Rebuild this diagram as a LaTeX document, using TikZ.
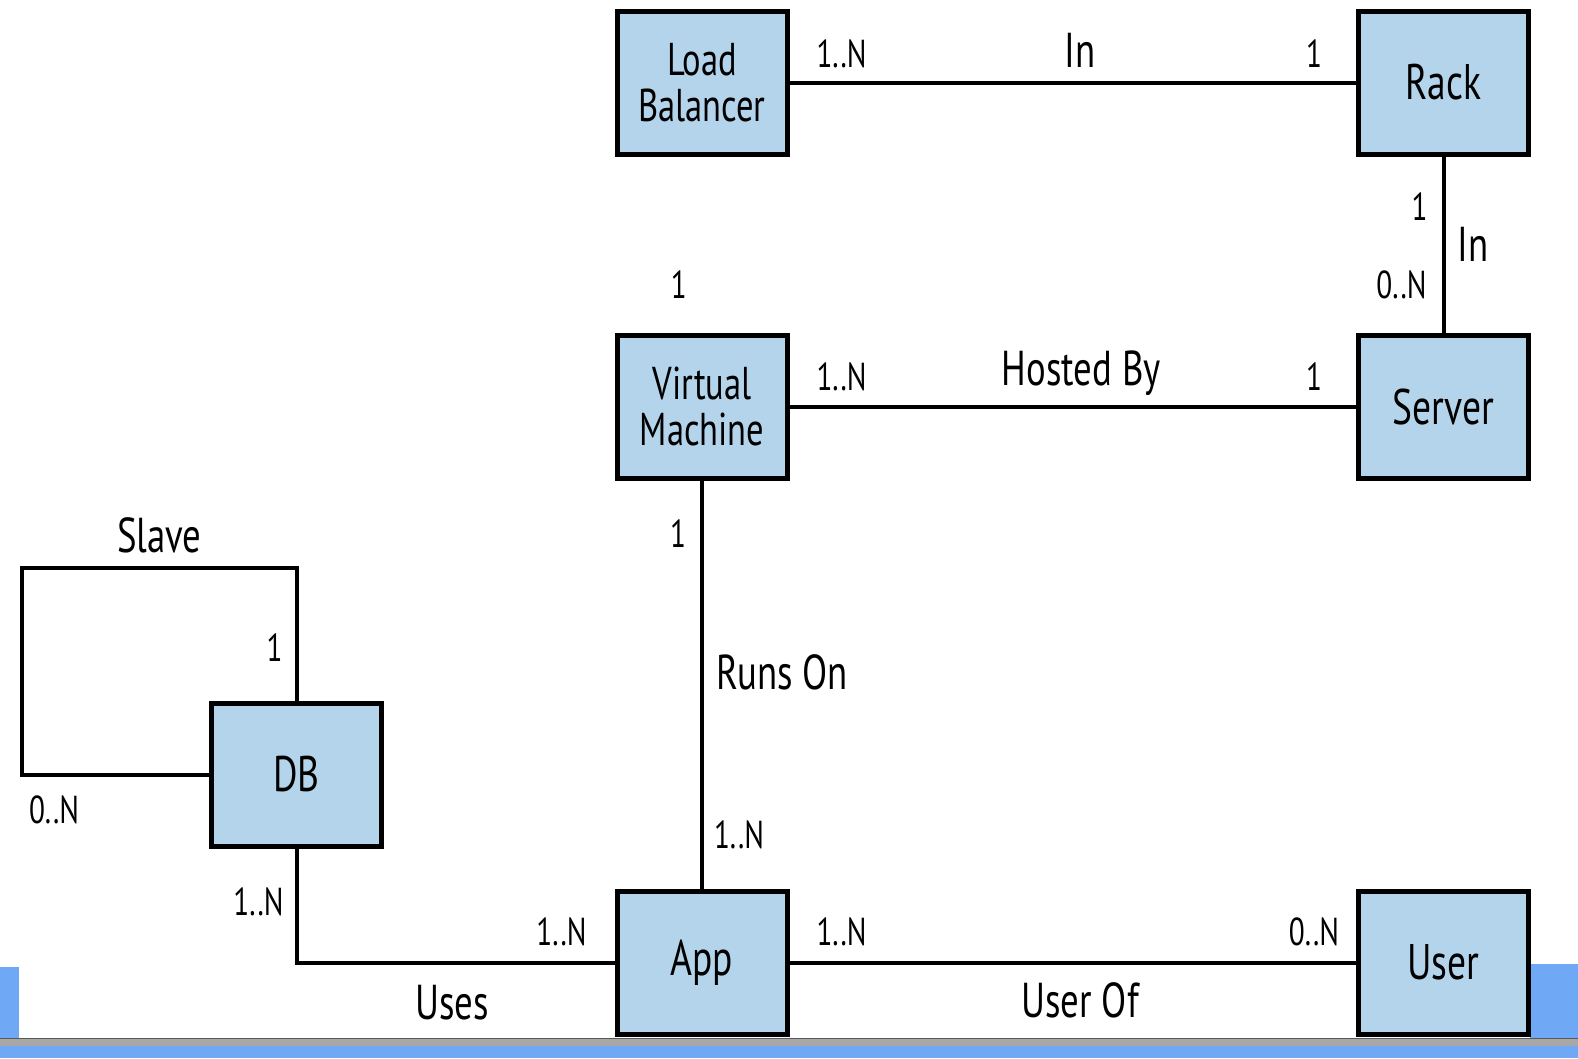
\documentclass[tikz,border=0pt]{standalone}
\usepackage{fontspec}
\setmainfont{PT Sans}[FakeStretch=0.75]
\usepackage{xcolor}
\usetikzlibrary{positioning}
\definecolor{entityblue}{HTML}{B3D4EA}
\definecolor{barblue}{HTML}{6FA8F5}
\definecolor{bargray}{HTML}{A8A8A8}

\begin{document}
\begin{tikzpicture}[
  x=1pt,y=-1pt,
  node distance=176pt and 566.5pt,
  entity/.style={draw,line width=5pt,fill=entityblue,minimum width=170pt,minimum height=143pt,align=center,inner sep=0pt,font=\fontsize{50}{46}\selectfont},
  twoline/.style={entity,font=\fontsize{46}{46}\selectfont},
  link/.style={line width=4pt},
  card/.style={inner sep=0pt,font=\fontsize{39}{39}\selectfont},
  rel/.style={inner sep=0pt,font=\fontsize{49}{49}\selectfont}
]
\useasboundingbox (0,0) rectangle (1578,1058);
% screen edge
\fill[barblue] (0,967) rectangle (19,1038);
\fill[barblue] (1530,964) rectangle (1578,1038);
\fill[bargray] (0,1038) rectangle (1578,1046);
\draw[line width=1pt,black!65] (0,1038) -- (1578,1038) (0,1046) -- (1578,1046);
\fill[barblue] (0,1046) rectangle (1578,1058);

% entities
\node[twoline] (lb) at (702,82.5) {Load\\Balancer};
\node[entity,right=of lb] (rack) {Rack};
\node[entity,below=of rack] (server) {Server};
\node[twoline,below=of lb] (vm) {Virtual\\Machine};
\node[entity,below=408pt of vm] (app) {App};
\node[entity,right=of app] (user) {User};
\node[entity] (db) at (296.5,774.5) {DB};
\coordinate (slavecorner) at (22,568);

% relations
\draw[link] (lb) --
  node[card,pos=0,anchor=west,xshift=25pt,yshift=29pt] (lbN) {1..N}
  node[rel,pos=0.513,yshift=32pt] (lbIn) {In}
  node[card,pos=1,anchor=east,xshift=-32pt,yshift=29pt] (rack1) {1} (rack);
\draw[link] (rack) --
  node[card,pos=0.285,anchor=east,xshift=-14pt] (rackOne) {1}
  node[rel,pos=0.497,anchor=west,xshift=12pt] (rackIn) {In}
  node[card,pos=0.732,anchor=east,xshift=-15pt] (serverN) {0..N} (server);
\draw[link] (vm) --
  node[card,pos=0,anchor=west,xshift=25pt,yshift=30pt] (vmN) {1..N}
  node[rel,pos=0.515,yshift=33pt] (hosted) {Hosted By}
  node[card,pos=1,anchor=east,xshift=-32pt,yshift=30pt] (server1) {1} (server);
\node[card,anchor=east] (vm1) at ([xshift=-15pt,yshift=48pt]vm.north) {1};
\draw[link] (vm) --
  node[card,pos=0.131,anchor=east,xshift=-14pt] (vmOne) {1}
  node[rel,pos=0.47,anchor=west,xshift=12pt] (runs) {Runs On}
  node[card,pos=0.869,anchor=west,xshift=10pt] (appN) {1..N} (app);
\draw[link] (app) --
  node[card,pos=0,anchor=west,xshift=25pt,yshift=31pt] (appUserN) {1..N}
  node[rel,pos=0.513,yshift=-38pt] (userof) {User Of}
  node[card,pos=1,anchor=east,xshift=-15pt,yshift=31pt] (userN) {0..N} (user);
\draw[link] (db.south) |-
  node[card,pos=0.233,anchor=east,xshift=-11pt] (dbN) {1..N}
  node[rel,pos=0.745,yshift=-40pt] (uses) {Uses}
  node[card,pos=1,anchor=east,xshift=-26pt,yshift=31pt] (appDbN) {1..N} (app.west);
\draw[link] (db.north) |-
  node[card,pos=0.2,anchor=east,xshift=-12pt] (slave1) {1}
  node[rel,pos=0.75,yshift=33pt] (slave) {Slave} (slavecorner) |-
  node[card,pos=0.5,anchor=north west,xshift=5pt,yshift=-19pt] (slaveN) {0..N} (db.west);
\end{tikzpicture}
\end{document}
